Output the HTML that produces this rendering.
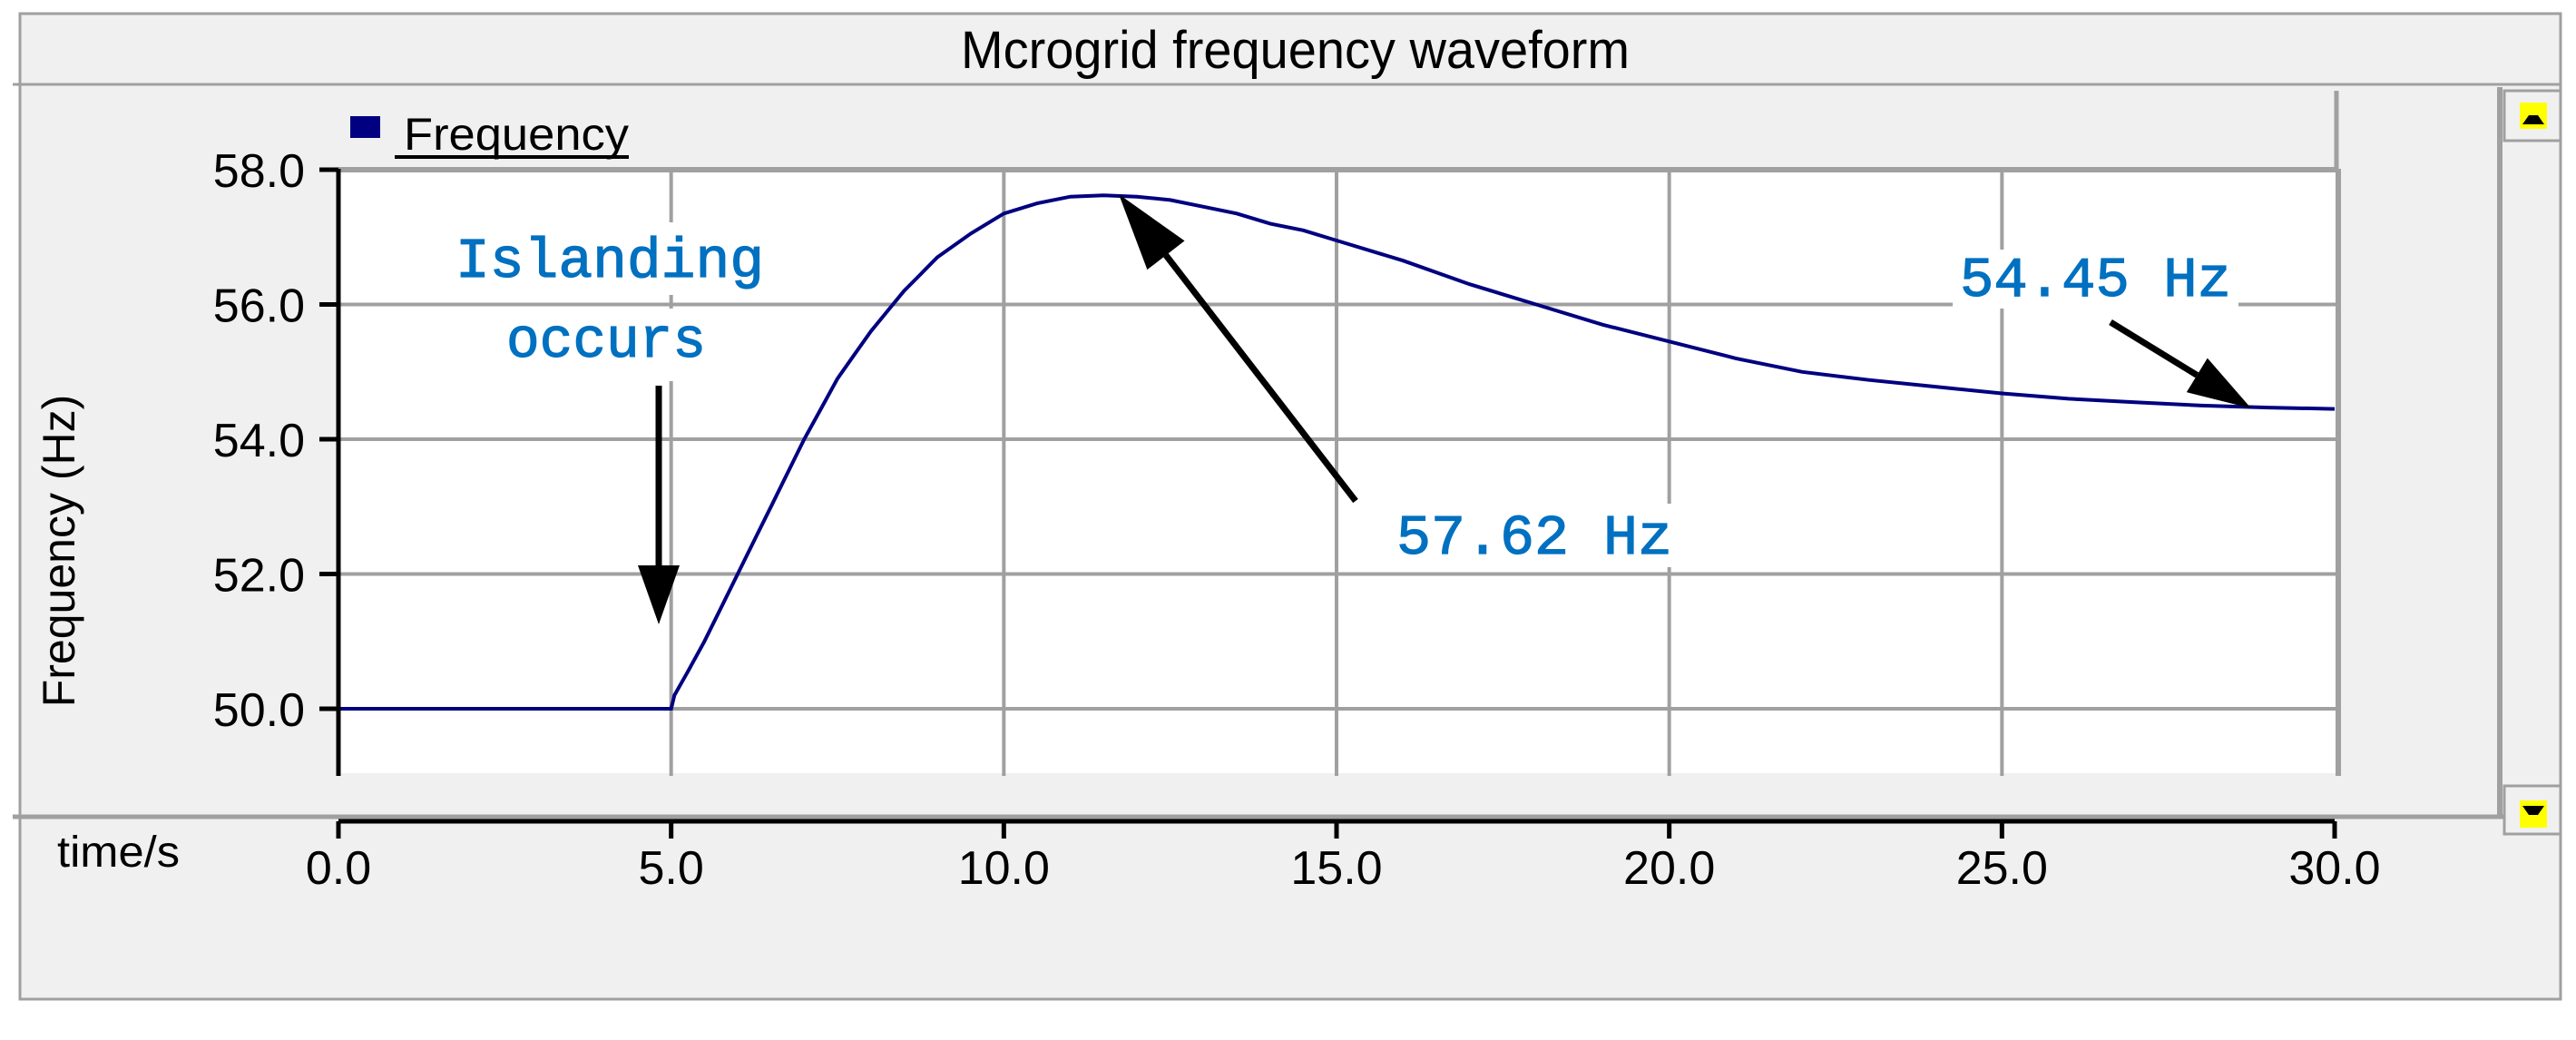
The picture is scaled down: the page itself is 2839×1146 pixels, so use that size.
<!DOCTYPE html>
<html><head><meta charset="utf-8"><style>
html,body{margin:0;padding:0;background:#fff;}
svg{display:block;}
</style></head><body>
<svg id="chart" width="2839" height="1146" viewBox="0 0 2839 1146" xmlns="http://www.w3.org/2000/svg">
  <rect x="22" y="15" width="2800" height="1086" fill="#f0f0f0" stroke="#a0a0a0" stroke-width="3"/>
  <text x="1059" y="75" font-family="Liberation Sans, sans-serif" font-size="58" textLength="737" lengthAdjust="spacingAndGlyphs" fill="#000">Mcrogrid frequency waveform</text>
  <line x1="14" y1="93" x2="2822" y2="93" stroke="#a0a0a0" stroke-width="3"/>
  <rect x="373" y="108" width="2202" height="78" fill="#f0f0f0"/>
  <line x1="2575" y1="100" x2="2575" y2="186" stroke="#a0a0a0" stroke-width="5"/>
  <rect x="386" y="128" width="33" height="24" fill="#000080"/>
  <text x="445" y="165" font-family="Liberation Sans, sans-serif" font-size="50" textLength="248" lengthAdjust="spacingAndGlyphs" fill="#000">Frequency</text>
  <line x1="435" y1="173" x2="693" y2="173" stroke="#000" stroke-width="4"/>
  <rect x="373" y="186" width="2204" height="666" fill="#fff"/>
  <g id="grid"></g>
  <g id="boxes"></g>
  <g id="series"></g>
  <g id="yaxis"></g>
  <g id="xaxis"></g>
  <line x1="2577" y1="186" x2="2577" y2="855" stroke="#a0a0a0" stroke-width="6"/>
  <text transform="translate(82,607) rotate(-90)" text-anchor="middle" font-family="Liberation Sans, sans-serif" font-size="50" fill="#000">Frequency (Hz)</text>
  <line x1="14" y1="900" x2="2822" y2="900" stroke="#a0a0a0" stroke-width="5"/>
  <text x="63" y="955" font-family="Liberation Sans, sans-serif" font-size="48" textLength="135" lengthAdjust="spacingAndGlyphs" fill="#000">time/s</text>
  <line x1="2755" y1="96" x2="2755" y2="900" stroke="#a0a0a0" stroke-width="6"/>
  <rect x="2760" y="100" width="62" height="55" fill="#f0f0f0" stroke="#a0a0a0" stroke-width="3"/>
  <rect x="2777" y="113" width="30" height="29" fill="#ffff00"/>
  <polygon points="2780,137 2804,137 2797,127 2787,127" fill="#000"/>
  <rect x="2764" y="160" width="56" height="702" fill="#f0f0f0"/>
  <rect x="2760" y="866" width="62" height="53" fill="#f0f0f0" stroke="#a0a0a0" stroke-width="3"/>
  <rect x="2777" y="882" width="30" height="30" fill="#ffff00"/>
  <polygon points="2780,888 2804,888 2797,898 2787,898" fill="#000"/>
  <g id="annot"></g>
</svg>
<script>
const xTicks = [0, 5, 10, 15, 20, 25, 30];
const xTickLabels = ["0.0","5.0","10.0","15.0","20.0","25.0","30.0"];
const yTicks = [50, 52, 54, 56, 58];
const yTickLabels = ["50.0","52.0","54.0","56.0","58.0"];
const times = [0,1,2,3,4,5,5.05,5.25,5.5,5.75,6,6.25,6.5,6.75,7,7.25,7.5,7.75,8,8.25,8.5,8.75,9,9.5,10,10.5,11,11.5,12,12.5,13,13.5,14,14.5,15,16,17,18,19,20,21,22,23,24,25,26,27,28,29,30];
const freq  = [50,50,50,50,50,50,50.2,50.55,51.0,51.5,52.0,52.5,53.0,53.5,54.0,54.45,54.9,55.25,55.6,55.9,56.2,56.45,56.7,57.05,57.35,57.5,57.6,57.62,57.6,57.55,57.45,57.35,57.2,57.1,56.95,56.65,56.3,56.0,55.7,55.45,55.2,55.0,54.88,54.78,54.68,54.6,54.55,54.5,54.47,54.45];
const annLabels = ["Islanding","occurs","57.62 Hz","54.45 Hz"];

const NS="http://www.w3.org/2000/svg";
const X0=373, X1=2573, T0=0, T1=30;
const Y58=187, Y50=781;
function sx(t){return X0+(t-T0)/(T1-T0)*(X1-X0);}
function sy(f){return Y50+(f-50)/(58-50)*(Y58-Y50);}
function mk(tag,attrs,parent){const e=document.createElementNS(NS,tag);for(const k in attrs)e.setAttribute(k,attrs[k]);parent.appendChild(e);return e;}

const grid=document.getElementById('grid');
yTicks.forEach((v,i)=>{
  const l=mk('line',{x1:X0,x2:2577,y1:sy(v),y2:sy(v),stroke:'#a0a0a0','stroke-width':v===58?6:4},grid);
  
  
});
xTicks.forEach((v,i)=>{
  if(i===0||i===xTicks.length-1)return;
  const l=mk('line',{x1:sx(v),x2:sx(v),y1:186,y2:855,stroke:'#a0a0a0','stroke-width':4},grid);
  
  
});

const ser=document.getElementById('series');
let d='M'+sx(times[0])+' '+sy(freq[0]);
for(let i=1;i<times.length;i++){d+=' L'+sx(times[i]).toFixed(1)+' '+sy(freq[i]).toFixed(1);}
const p=mk('path',{d:d,fill:'none',stroke:'#000080','stroke-width':4},ser);



const ya=document.getElementById('yaxis');
mk('line',{x1:X0,x2:X0,y1:186,y2:855,stroke:'#000','stroke-width':5},ya);
yTicks.forEach((v,i)=>{
  mk('line',{x1:352,x2:X0,y1:sy(v),y2:sy(v),stroke:'#000','stroke-width':5},ya);
  const t=mk('text',{x:336,y:sy(v)+19,'text-anchor':'end','font-family':'Liberation Sans, sans-serif','font-size':52,fill:'#000'},ya);
  t.textContent=yTickLabels[i];
  
  
});
const xa=document.getElementById('xaxis');
mk('line',{x1:X0,x2:X1,y1:905,y2:905,stroke:'#000','stroke-width':5},xa);
xTicks.forEach((v,i)=>{
  mk('line',{x1:sx(v),x2:sx(v),y1:905,y2:924,stroke:'#000','stroke-width':5},xa);
  const t=mk('text',{x:sx(v),y:974,'text-anchor':'middle','font-family':'Liberation Sans, sans-serif','font-size':52,fill:'#000'},xa);
  t.textContent=xTickLabels[i];
  
  
});

const an=document.getElementById('annot');
const bx=document.getElementById('boxes');
const font='"Liberation Mono", "Noto Serif CJK SC", monospace';
const pos=[[502,305,340,245,80],[558,393,220,340,80],[1539,610,304,555,70],[2160,326,299,275,65]];
annLabels.forEach((s,i)=>{
  const [x,y,w,by,bh]=pos[i];
  mk('rect',{x:x-8,y:by,width:w+16,height:bh,fill:'#fff'},bx);
  const t=mk('text',{x:x,y:y,'font-family':font,'font-size':62,fill:'#0070c0',textLength:w,lengthAdjust:'spacingAndGlyphs','stroke':'#0070c0','stroke-width':1.2},an);
  t.textContent=s;
  
  
});
function arrow(x1,y1,x2,y2,hl,hw){
  const a=Math.atan2(y2-y1,x2-x1),c=Math.cos(a),s=Math.sin(a);
  const bx2=x2-hl*c,by2=y2-hl*s;
  mk('line',{x1:x1,y1:y1,x2:bx2,y2:by2,stroke:'#000','stroke-width':7},an);
  const g=mk('polygon',{points:`${x2},${y2} ${bx2-hw*s},${by2+hw*c} ${bx2+hw*s},${by2-hw*c}`,fill:'#000'},an);
  
  
}
arrow(726,425,726,688,65,23);
arrow(1494,552,1233,214,85,26);
arrow(2326,355,2481,450,70,22);
</script>
</body></html>
